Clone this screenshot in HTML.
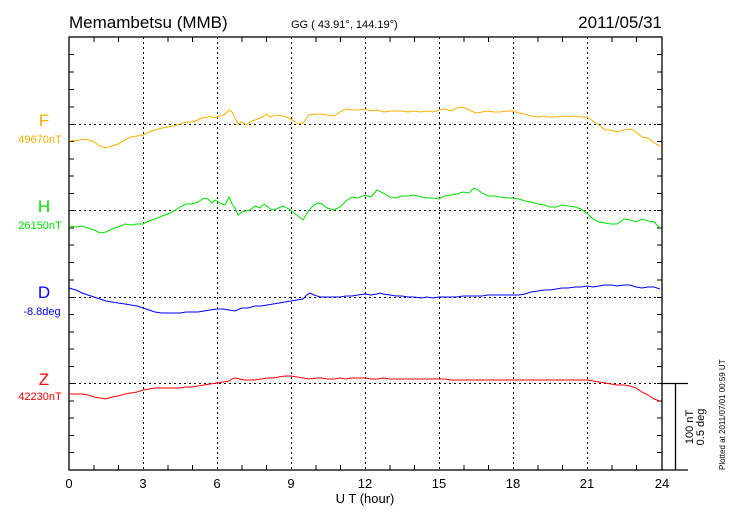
<!DOCTYPE html><html><head><style>body{margin:0;background:#fff}svg{display:block}text{font-family:"Liberation Sans",sans-serif}</style></head><body>
<svg width="730" height="520" viewBox="0 0 730 520" xmlns="http://www.w3.org/2000/svg">
<rect width="730" height="520" fill="#fff"/>
<text x="69" y="28" font-size="17">Memambetsu (MMB)</text>
<text x="291" y="28" font-size="11">GG ( 43.91°, 144.19°)</text>
<text x="662" y="28" font-size="17" text-anchor="end">2011/05/31</text>
<g stroke="#000" stroke-dasharray="2,3" stroke-width="1">
<line x1="143.5" y1="37" x2="143.5" y2="470"/><line x1="217.5" y1="37" x2="217.5" y2="470"/><line x1="291.5" y1="37" x2="291.5" y2="470"/><line x1="365.5" y1="37" x2="365.5" y2="470"/><line x1="439.5" y1="37" x2="439.5" y2="470"/><line x1="513.5" y1="37" x2="513.5" y2="470"/><line x1="587.5" y1="37" x2="587.5" y2="470"/>
<line x1="69" y1="124.5" x2="662" y2="124.5"/><line x1="69" y1="210.5" x2="662" y2="210.5"/><line x1="69" y1="297.5" x2="662" y2="297.5"/><line x1="69" y1="383.5" x2="662" y2="383.5"/>
</g>
<g stroke="#000" fill="none" stroke-width="1.3">
<rect x="69" y="37" width="593" height="433"/>
<line x1="662" y1="470" x2="688" y2="470"/><line x1="662" y1="383.5" x2="688" y2="383.5"/><line x1="675.5" y1="383.5" x2="675.5" y2="470"/>
</g>
<g stroke="#000" stroke-width="1" id="tk">
<path d="M69 54.5h5M69 72h5M69 89.5h5M69 107h5M69 124.5h5M69 141.5h5M69 159h5M69 176h5M69 193.5h5M69 210.5h5M69 228h5M69 245h5M69 262.5h5M69 280h5M69 297.5h5M69 314.5h5M69 332h5M69 349h5M69 366.5h5M69 383.5h5M69 401h5M69 418h5M69 435.5h5M69 452.5h5"/>
<path d="M662 54.5h-5M662 72h-5M662 89.5h-5M662 107h-5M662 124.5h-5M662 141.5h-5M662 159h-5M662 176h-5M662 193.5h-5M662 210.5h-5M662 228h-5M662 245h-5M662 262.5h-5M662 280h-5M662 297.5h-5M662 314.5h-5M662 332h-5M662 349h-5M662 366.5h-5M662 383.5h-5M662 401h-5M662 418h-5M662 435.5h-5M662 452.5h-5"/>
<path d="M94 37v5M118.5 37v5M168 37v5M192.5 37v5M242 37v5M266.5 37v5M316 37v5M340.5 37v5M390 37v5M414.5 37v5M464 37v5M488.5 37v5M538 37v5M562.5 37v5M612 37v5M636.5 37v5"/>
<path d="M94 470v-5M118.5 470v-5M168 470v-5M192.5 470v-5M242 470v-5M266.5 470v-5M316 470v-5M340.5 470v-5M390 470v-5M414.5 470v-5M464 470v-5M488.5 470v-5M538 470v-5M562.5 470v-5M612 470v-5M636.5 470v-5"/>
</g>
<g font-size="13" text-anchor="middle">
<text x="69" y="488">0</text><text x="143" y="488">3</text><text x="217" y="488">6</text><text x="291" y="488">9</text><text x="365" y="488">12</text><text x="439" y="488">15</text><text x="513" y="488">18</text><text x="587" y="488">21</text><text x="662" y="488">24</text>
<text x="365" y="503">U T (hour)</text>
</g>
<text x="44" y="126" font-size="17" fill="#f8b000" text-anchor="middle">F</text><text x="40" y="143" font-size="11" fill="#f8b000" text-anchor="middle">49670nT</text>
<text x="44" y="212" font-size="17" fill="#00e000" text-anchor="middle">H</text><text x="40" y="229" font-size="11" fill="#00e000" text-anchor="middle">26150nT</text>
<text x="44" y="298" font-size="17" fill="#0000ff" text-anchor="middle">D</text><text x="42" y="315" font-size="11" fill="#0000ff" text-anchor="middle">-8.8deg</text>
<text x="44" y="385" font-size="17" fill="#ff0000" text-anchor="middle">Z</text><text x="40" y="400" font-size="11" fill="#ff0000" text-anchor="middle">42230nT</text>
<text transform="translate(693,427) rotate(-90)" font-size="11" text-anchor="middle">100 nT</text>
<text transform="translate(704,427) rotate(-90)" font-size="11" text-anchor="middle">0.5 deg</text>
<text transform="translate(725,470) rotate(-90)" font-size="8">Plotted at 2011/07/01 00:59 UT</text>
<g fill="none" stroke-width="1">
<polyline stroke="#f8b000" points="69,141 80,140 86,139 94,142 100,146 106,148 112,146 118,144 125,140 131,137 137,136 143,135 149,132 155,130 162,128 168,127 174,126 180,124 186,122 192,122 198,120 204,117 207,118 210,116 213,118 217,117 220,116 224,115 229,110 232,112 235,118 238,124 242,122 246,125 250,122 255,120 260,118 264,116 267,114 270,117 276,115 283,116 289,118 294,121 298,124 303,123 309,115 316,114 322,114 327,115 334,116 340,112 346,109 352,110 358,110 365,109 371,111 377,110 384,112 390,111 396,111 402,111 408,112 414,111 421,112 427,111 433,112 439,110 445,109 451,111 457,108 463,107 469,110 476,113 482,112 488,111 494,112 500,112 507,111 513,111 519,113 525,114 531,116 538,117 544,116 550,117 556,117 562,116 568,117 575,116 581,117 587,117 593,121 599,125 605,130 611,130 617,132 624,130 630,129 636,132 642,137 648,138 654,143 660,146"/>
<polyline stroke="#00e000" points="69,226 76,227 82,226 88,228 94,230 100,233 106,232 112,229 118,227 125,224 131,225 137,224 143,224 149,221 155,219 162,216 168,214 174,211 180,207 186,204 192,204 198,202 204,198 208,199 212,203 215,200 220,203 225,205 229,197 232,204 235,208 238,215 242,212 246,211 250,210 255,206 260,208 264,204 268,207 272,210 276,209 283,206 289,209 294,213 298,216 303,220 309,210 314,205 318,203 322,204 327,208 334,210 340,207 346,201 352,197 358,198 365,195 371,197 377,190 383,193 390,197 396,198 402,196 408,196 414,195 421,197 427,198 433,198 439,199 445,196 451,195 457,194 463,192 469,193 474,188 478,190 482,193 488,196 494,196 500,197 507,198 513,198 519,199 525,201 531,202 538,204 544,205 550,207 556,207 562,205 568,206 575,207 581,209 587,213 593,219 599,222 605,223 611,224 617,224 624,219 630,220 636,222 642,219 648,221 654,222 660,228"/>
<polyline stroke="#0000ff" points="69,288 76,290 82,293 88,295 94,297 100,299 106,301 112,302 118,303 125,304 131,305 137,306 143,308 149,310 155,312 162,313 168,313 174,313 180,313 186,312 192,312 198,312 204,311 210,310 217,309 223,309 229,310 235,311 242,308 248,308 255,306 261,306 267,305 273,304 279,303 285,302 291,301 297,300 303,299 307,295 310,293 314,295 320,297 327,297 334,297 340,297 346,296 352,296 358,295 365,294 371,295 377,294 380,293 383,294 390,295 396,296 402,296 408,297 414,297 421,298 427,297 433,298 439,297 445,297 451,297 457,297 463,296 469,296 476,296 482,296 488,295 494,295 500,295 507,295 513,295 519,295 525,294 531,292 538,291 544,290 550,290 556,289 562,288 568,288 575,287 581,287 587,286 593,287 599,286 605,285 611,285 617,286 624,285 630,285 636,287 642,288 648,287 654,287 660,289"/>
<polyline stroke="#ff0000" points="69,394 76,394 82,394 88,395 94,397 100,398 106,399 112,397 118,396 125,394 131,393 137,392 143,390 149,389 155,388 162,388 168,388 174,388 180,388 186,387 192,387 198,386 204,385 210,384 217,383 223,382 229,381 232,379 235,378 240,379 245,380 250,380 255,380 261,379 267,378 273,378 279,377 285,376 291,376 297,377 303,378 309,379 316,378 322,378 327,379 334,379 340,378 346,379 352,378 358,378 365,378 371,379 377,379 384,378 390,379 396,379 402,379 408,379 414,379 421,379 427,379 433,379 439,379 445,379 451,380 457,380 463,380 469,380 476,380 482,380 488,380 494,380 500,380 507,380 513,380 519,380 525,380 531,380 538,380 544,380 550,380 556,380 562,380 568,380 575,380 581,380 587,380 593,381 599,382 605,383 611,384 617,385 624,385 630,386 636,388 642,392 648,395 654,399 660,401"/>
</g>
</svg>
</body></html>
